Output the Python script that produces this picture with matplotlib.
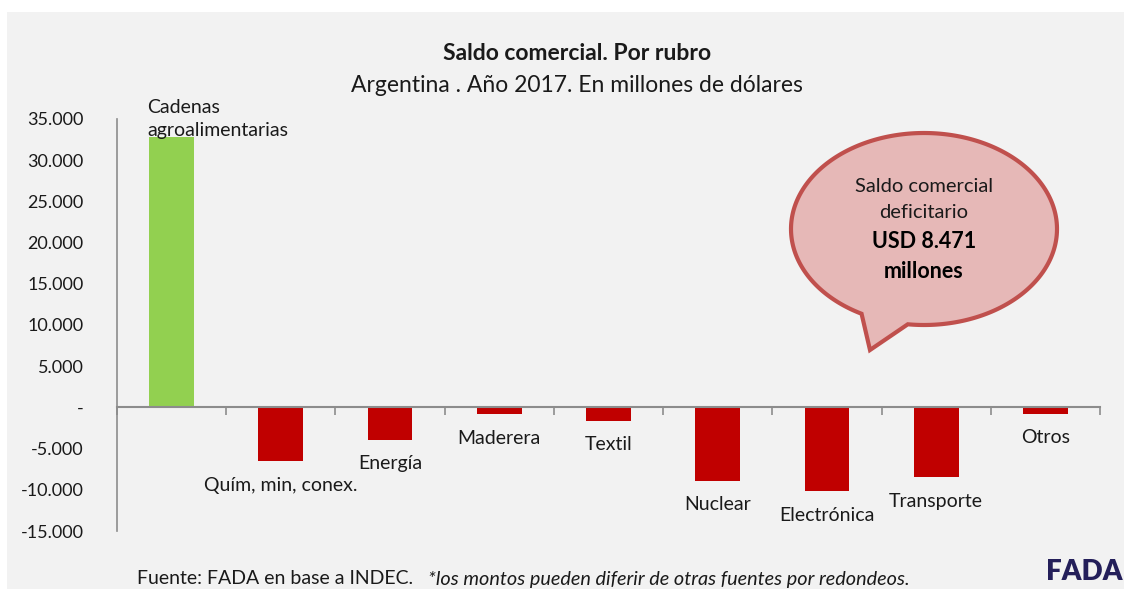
import numpy as np
import matplotlib
matplotlib.use("Agg")
import matplotlib.pyplot as plt
from matplotlib.patches import Rectangle, Polygon
from matplotlib.ticker import FuncFormatter

plt.rcParams['font.family'] = ['Lato', 'DejaVu Sans']

# datos (millones de USD)
categorias = ["Cadenas\nagroalimentarias", "Quím, min, conex.", "Energía", "Maderera",
              "Textil", "Nuclear", "Electrónica", "Transporte", "Otros"]
saldo = [32800, -6550, -3900, -850, -1650, -8900, -10200, -8500, -800]
y_ticks = [-15000, -10000, -5000, 0, 5000, 10000, 15000, 20000, 25000, 30000, 35000]

W, H = 1124, 589
fig = plt.figure(figsize=(W / 100, H / 100), dpi=100)

# fondo gris del panel
fig.patches.append(Rectangle((7 / W, 0), 1, 1 - 12 / H, transform=fig.transFigure,
                             facecolor='#f2f2f2', edgecolor='none', zorder=-5))

ax = fig.add_axes([117 / W, 58 / H, (1100 - 117) / W, (531 - 119) / H])
ax.set_facecolor('none')
ax.set_zorder(1)

x = np.arange(len(categorias))
colores = ['#92d050' if v > 0 else '#c00000' for v in saldo]
ax.bar(x, saldo, width=0.41, color=colores, zorder=2)

ax.set_xlim(-0.5, len(categorias) - 0.5)
ax.set_ylim(-15000, 35000)
ax.set_yticks(y_ticks)
ax.yaxis.set_major_formatter(FuncFormatter(
    lambda v, p: '-' if v == 0 else f"{int(v):,}".replace(',', '.')))
ax.tick_params(axis='y', length=0, pad=24, labelsize=13, labelcolor='#1a1a1a')

ax.set_xticks(np.arange(-0.5, len(categorias)))
ax.set_xticklabels([])
ax.tick_params(axis='x', direction='out', length=6, width=1.2, color='#8c8c8c')

for s in ['top', 'right']:
    ax.spines[s].set_visible(False)
ax.spines['bottom'].set_position(('data', 0))
ax.spines['bottom'].set_color('#8c8c8c')
ax.spines['bottom'].set_linewidth(1.5)
ax.spines['left'].set_color('#8c8c8c')
ax.spines['left'].set_linewidth(1.2)

# etiquetas de categoria
for i, (c, v) in enumerate(zip(categorias, saldo)):
    if v > 0:
        ax.annotate(c, xy=(i - 0.22, v), xytext=(0, -2), textcoords='offset pixels',
                    ha='left', va='bottom', fontsize=14, color='#1a1a1a',
                    linespacing=1.45)
    else:
        ax.annotate(c, xy=(i, v), xytext=(0, -24), textcoords='offset pixels',
                    ha='center', va='center', fontsize=14, color='#1a1a1a')

# titulos
fig.text(577 / W, 1 - 53 / H, "Saldo comercial. Por rubro", ha='center', va='center',
         fontsize=16.5, fontweight='bold', color='#1a1a1a')
fig.text(577 / W, 1 - 86 / H, "Argentina . Año 2017. En millones de dólares",
         ha='center', va='center', fontsize=16.5, color='#1a1a1a')

# globo de dialogo
cx, cy, a, b = 924, 229, 133, 96
t = np.radians(np.linspace(118, 457, 300))
px = cx + a * np.cos(t)
py = cy + b * np.sin(t)
pts = list(zip(px, py)) + [(870, 350)]
pts = [(p[0] / W, 1 - p[1] / H) for p in pts]
fig.patches.append(Polygon(pts, closed=True, transform=fig.transFigure,
                           facecolor='#e6b8b7', edgecolor='#c0504d', linewidth=3, zorder=3))
fig.text(cx / W, 1 - 186 / H, "Saldo comercial", ha='center', va='center',
         fontsize=14.5, color='#1a1a1a', zorder=4)
fig.text(cx / W, 1 - 213 / H, "deficitario", ha='center', va='center',
         fontsize=14.5, color='#1a1a1a', zorder=4)
fig.text(cx / W, 1 - 242 / H, "USD 8.471", ha='center', va='center',
         fontsize=15.5, fontweight='bold', color='#000000', zorder=4)
fig.text(cx / W, 1 - 272 / H, "millones", ha='center', va='center',
         fontsize=15.5, fontweight='bold', color='#000000', zorder=4)

# fuente
fig.text(137 / W, 1 - 579 / H, "Fuente: FADA en base a INDEC.", ha='left', va='center',
         fontsize=14, color='#1a1a1a')
fig.text(428 / W, 1 - 579 / H, "*los montos pueden diferir de otras fuentes por redondeos.",
         ha='left', va='center', fontsize=14.3, style='italic', color='#1a1a1a')

# logo
fig.text(1122 / W, 1 - 572 / H, "FADA", ha='right', va='center', fontsize=20,
         fontweight='heavy', color='#241f5a')

fig.savefig("out.png", dpi=100)
